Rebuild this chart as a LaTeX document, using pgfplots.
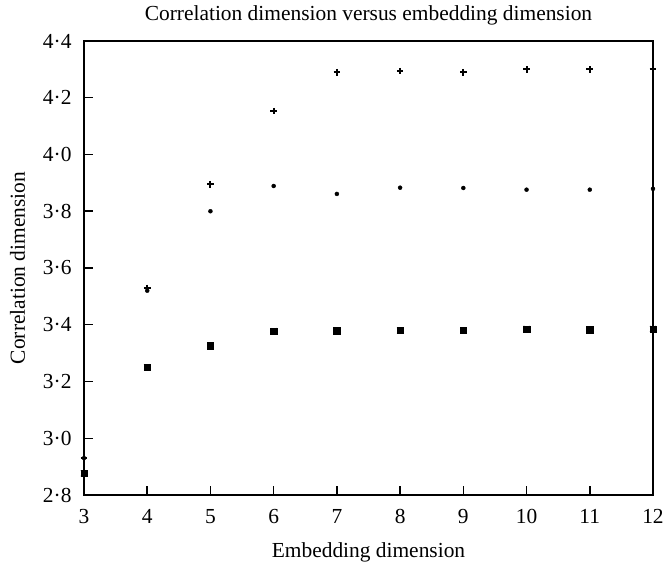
\documentclass[border=0pt]{standalone}
\usepackage{pgfplots}
\usepackage{pgfplotstable}
\pgfplotsset{compat=1.18}
\usepackage{fontspec}
\setmainfont{Liberation Serif}

\pgfplotstableread{
x y
3 2.93
4 3.53
5 3.895
6 4.153
7 4.290
8 4.294
9 4.290
10 4.300
11 4.300
12 4.300
}\tabtop

\pgfplotstableread{
x y
3 2.93
4 3.52
5 3.800
6 3.889
7 3.861
8 3.883
9 3.882
10 3.876
11 3.876
12 3.879
}\tabmid

\pgfplotstableread{
x y
3 2.876
4 3.250
5 3.326
6 3.377
7 3.379
8 3.380
9 3.380
10 3.385
11 3.383
12 3.385
}\tabbot

\newcommand{\ff}{\fontsize{21.5}{25}\selectfont}

\begin{document}
\begin{tikzpicture}[font=\ff]
\useasboundingbox (-84bp,-71bp) rectangle (581bp,495bp);
\begin{axis}[
  at={(0,0)}, anchor=south west,
  scale only axis, width=569bp, height=454bp,
  xmin=3, xmax=12, ymin=2.8, ymax=4.4,
  xtick={3,4,5,6,7,8,9,10,11,12},
  ytick={2.8,3,3.2,3.4,3.6,3.8,4,4.2,4.4},
  yticklabels={2·8,3·0,3·2,3·4,3·6,3·8,4·0,4·2,4·4},
  /pgf/number format/assume math mode=true,
  tick align=inside, tick pos=left,
  major tick length=9bp,
  axis line style={line width=1.5bp},
  every tick/.style={black, line width=1.5bp},
  xticklabel style={yshift=-11bp, font=\ff},
  yticklabel style={xshift=-9bp, font=\ff},
  title={Correlation dimension versus embedding dimension},
  title style={at={(axis description cs:0.5,1.033)}, anchor=base, font=\ff},
  xlabel={Embedding dimension},
  xlabel style={at={(axis description cs:0.5,-0.137)}, anchor=base, font=\ff},
  ylabel={Correlation dimension},
  ylabel style={at={(axis description cs:-0.104,0.5)}, anchor=base, font=\ff},
  clip=false,
]
\addplot[only marks, mark=+, mark size=3.3bp, line width=1.9bp, black] table {\tabtop};
\addplot[only marks, mark=*, mark size=2bp, black] table {\tabmid};
\addplot[only marks, mark=square*, mark size=3.2bp, black] table {\tabbot};
\addplot[only marks, mark=x, mark size=4.2bp, line width=1bp, black] table {\tabbot};
\end{axis}
\end{tikzpicture}
\end{document}
